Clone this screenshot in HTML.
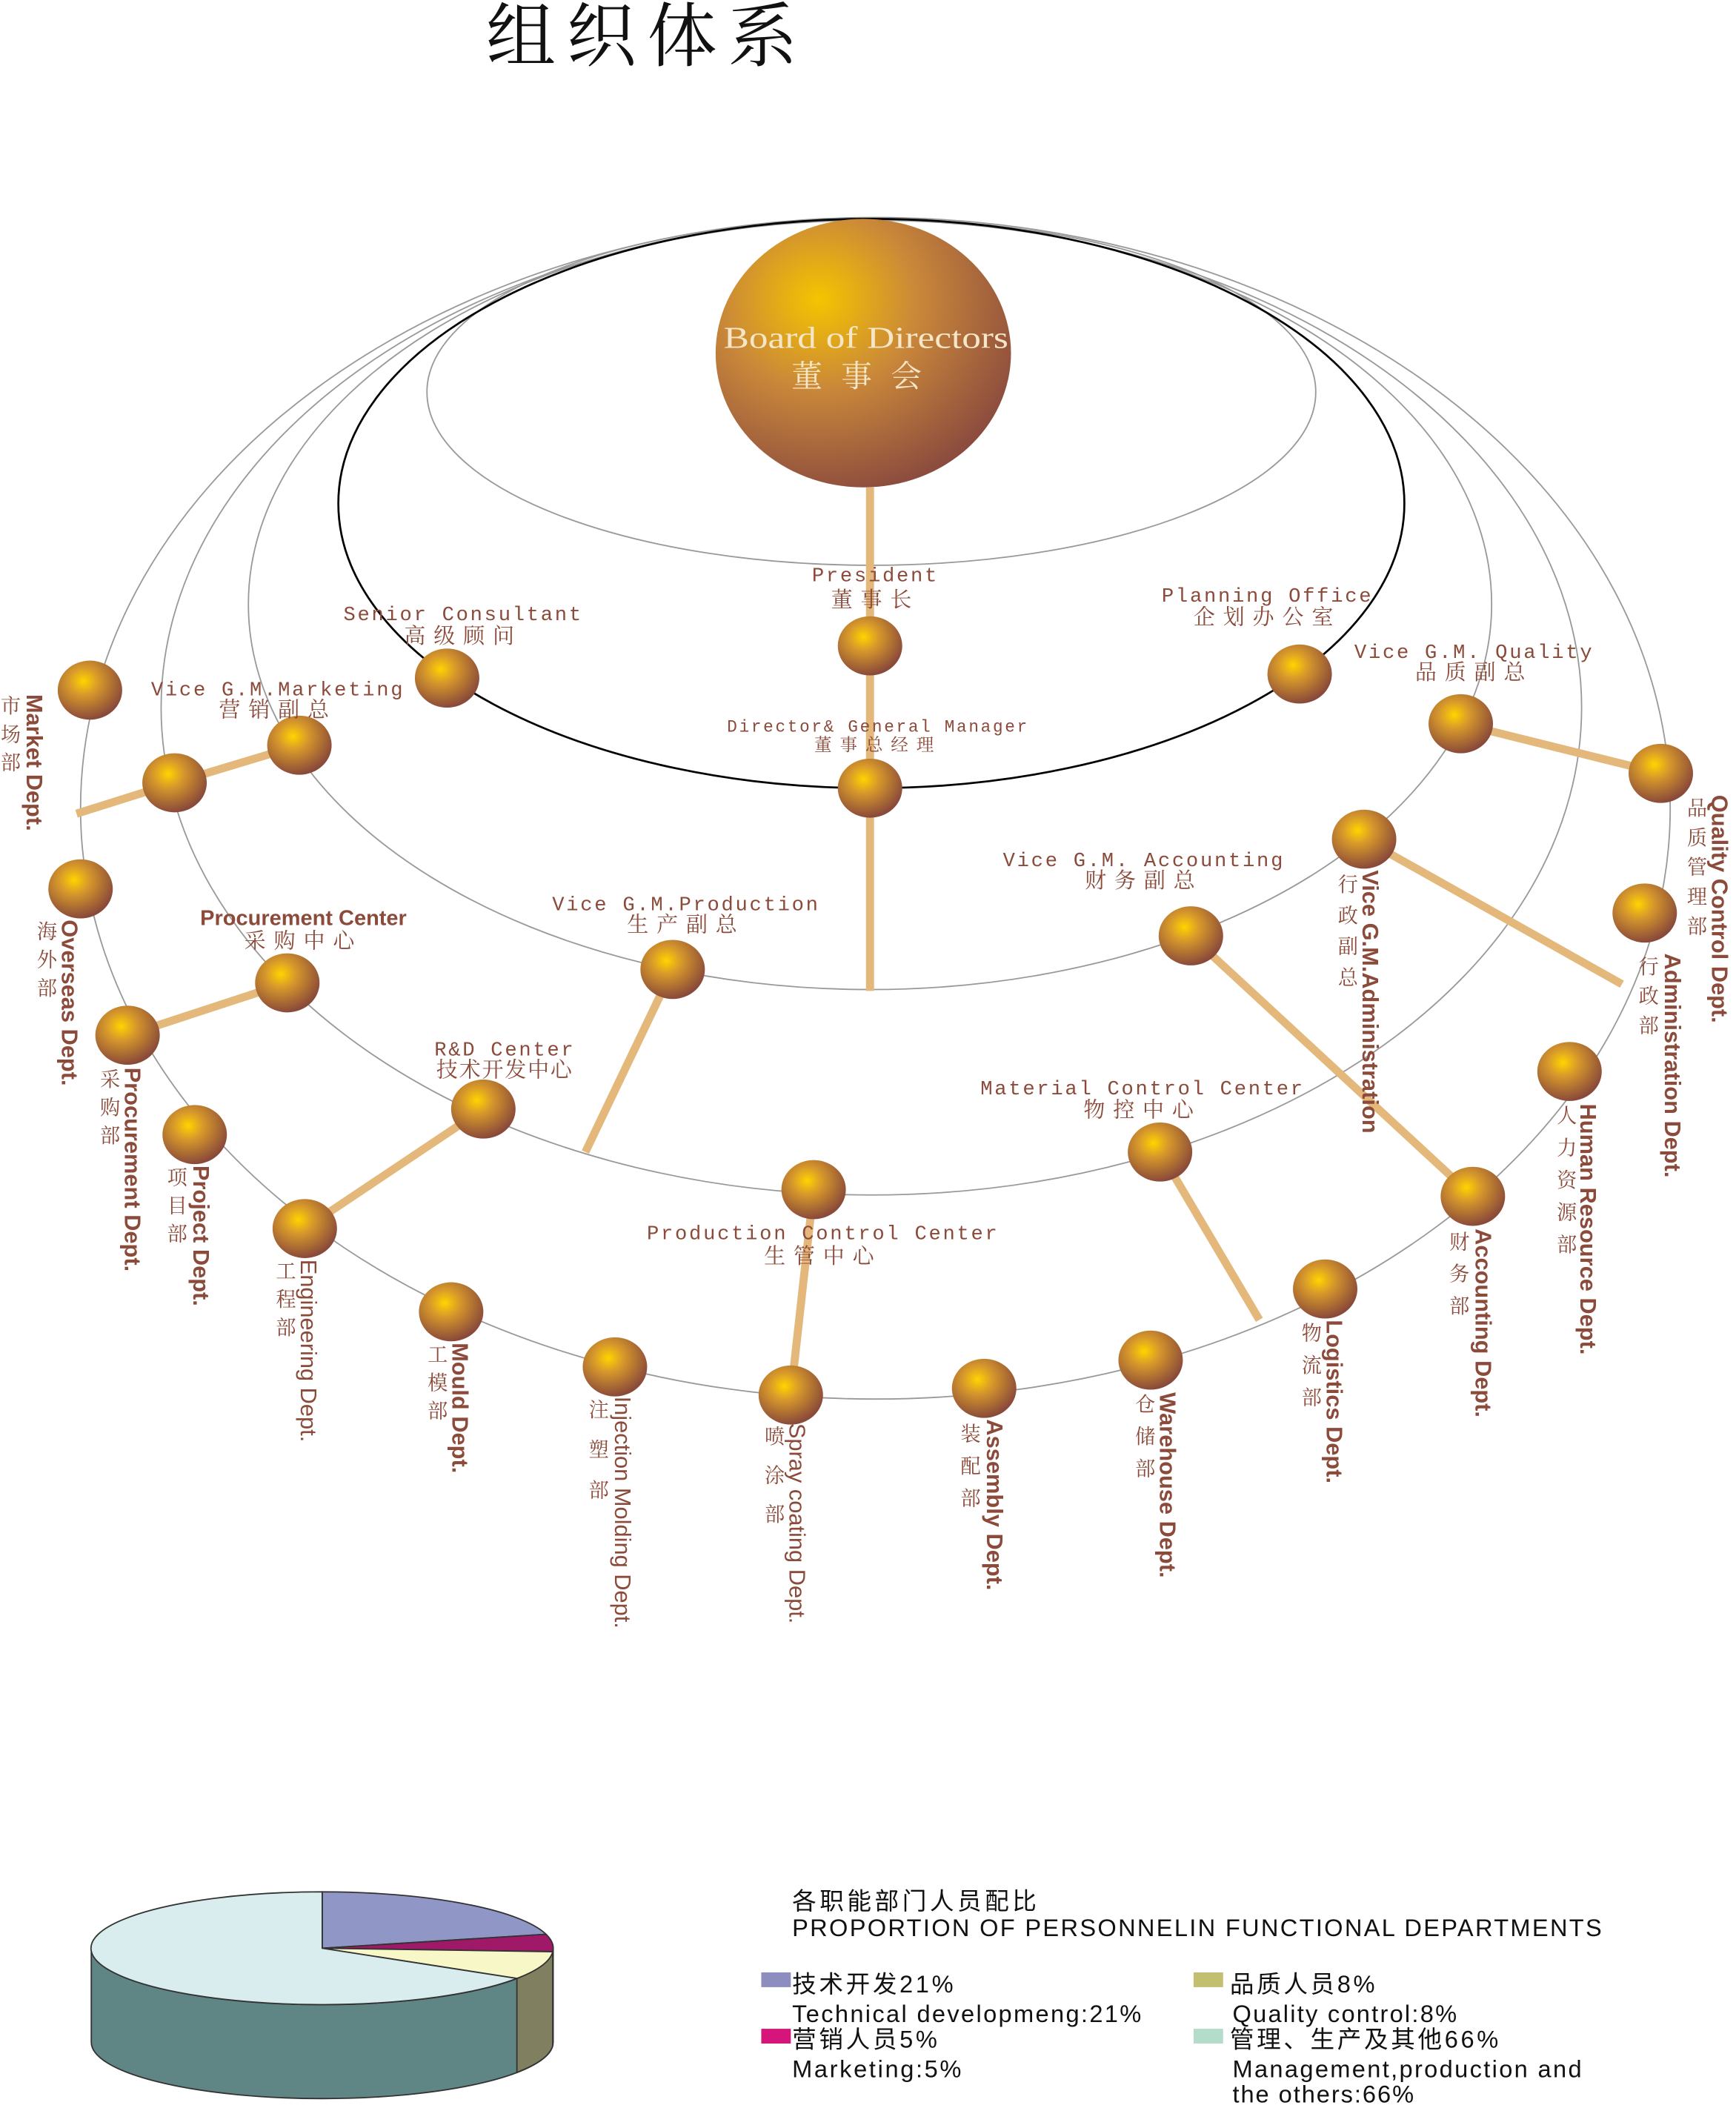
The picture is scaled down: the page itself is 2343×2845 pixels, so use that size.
<!DOCTYPE html>
<html><head><meta charset="utf-8"><style>
html,body{margin:0;padding:0;background:#fff}
svg{display:block}
.s{font-family:"Liberation Mono","Noto Serif CJK SC",monospace;fill:#8b4a3a;font-size:15px;letter-spacing:1.5px}
.c{font-family:"Liberation Serif","Noto Serif CJK SC",serif;fill:#8b4a3a;font-size:16px;letter-spacing:6px}
.v{font-family:"Liberation Sans",sans-serif;fill:#8b4a3a;font-size:17px;font-weight:bold}
.vc{font-family:"Liberation Serif","Noto Serif CJK SC",serif;fill:#8b4a3a;font-size:15px}
.lg{font-family:"Liberation Sans","Noto Sans CJK SC",sans-serif;fill:#111;font-size:18px}
</style></head><body>
<svg width="2343" height="2845" viewBox="0 0 1293 1570" preserveAspectRatio="none" xmlns="http://www.w3.org/2000/svg">
<defs>
<radialGradient id="b" cx="0.4" cy="0.35" r="0.65">
<stop offset="0" stop-color="#ffd400"/><stop offset="0.35" stop-color="#d89a2a"/><stop offset="1" stop-color="#8a4a3a"/>
</radialGradient>
<radialGradient id="big" cx="0.35" cy="0.3" r="0.75">
<stop offset="0" stop-color="#f5c400"/><stop offset="0.45" stop-color="#c9873a"/><stop offset="1" stop-color="#8a4a3e"/>
</radialGradient>
</defs>
<text x="362" y="45" font-family="Liberation Serif,'Noto Serif CJK SC',serif" font-size="52" letter-spacing="8" fill="#111">组织体系</text>
<g fill="none" stroke="#999" stroke-width="1">
<ellipse cx="649" cy="292" rx="331" ry="129"/>
<ellipse cx="648" cy="450" rx="463" ry="287"/>
<ellipse cx="649" cy="527" rx="529" ry="363"/>
<ellipse cx="652" cy="602" rx="592" ry="440"/>
</g>
<ellipse cx="649" cy="375" rx="397" ry="212" fill="none" stroke="#000" stroke-width="1.5"/>
<g stroke="#e3b87a" stroke-width="6" fill="none">
<line x1="648" y1="363" x2="648" y2="738"/>
<polyline points="57,606 130,583 223,555"/>
<line x1="1088" y1="539" x2="1237" y2="576"/>
<line x1="1016" y1="625" x2="1208" y2="733"/>
<line x1="887" y1="697" x2="1097" y2="891"/>
<line x1="501" y1="722" x2="436" y2="858"/>
<line x1="214" y1="732" x2="95" y2="771"/>
<line x1="360" y1="826" x2="227" y2="915"/>
<line x1="864" y1="858" x2="938" y2="983"/>
<line x1="606" y1="886" x2="589" y2="1039"/>
</g>
<ellipse cx="643" cy="263" rx="110" ry="100" fill="url(#big)"/>
<g fill="url(#b)">
<ellipse cx="648" cy="481" rx="24" ry="22"/><ellipse cx="333" cy="505" rx="24" ry="22"/>
<ellipse cx="968" cy="502" rx="24" ry="22"/><ellipse cx="648" cy="587" rx="24" ry="22"/>
<ellipse cx="223" cy="555" rx="24" ry="22"/><ellipse cx="67" cy="514" rx="24" ry="22"/>
<ellipse cx="130" cy="583" rx="24" ry="22"/><ellipse cx="1088" cy="539" rx="24" ry="22"/>
<ellipse cx="1237" cy="576" rx="24" ry="22"/><ellipse cx="1016" cy="625" rx="24" ry="22"/>
<ellipse cx="1225" cy="680" rx="24" ry="22"/><ellipse cx="887" cy="697" rx="24" ry="22"/>
<ellipse cx="501" cy="722" rx="24" ry="22"/><ellipse cx="60" cy="662" rx="24" ry="22"/>
<ellipse cx="214" cy="732" rx="24" ry="22"/><ellipse cx="95" cy="771" rx="24" ry="22"/>
<ellipse cx="360" cy="826" rx="24" ry="22"/><ellipse cx="145" cy="845" rx="24" ry="22"/>
<ellipse cx="1169" cy="798" rx="24" ry="22"/><ellipse cx="864" cy="858" rx="24" ry="22"/>
<ellipse cx="606" cy="886" rx="24" ry="22"/><ellipse cx="227" cy="915" rx="24" ry="22"/>
<ellipse cx="1097" cy="891" rx="24" ry="22"/><ellipse cx="987" cy="960" rx="24" ry="22"/>
<ellipse cx="336" cy="977" rx="24" ry="22"/><ellipse cx="458" cy="1018" rx="24" ry="22"/>
<ellipse cx="589" cy="1039" rx="24" ry="22"/><ellipse cx="733" cy="1034" rx="24" ry="22"/>
<ellipse cx="857" cy="1013" rx="24" ry="22"/>
</g>
<text x="539" y="259" textLength="212" lengthAdjust="spacingAndGlyphs" font-family="Liberation Serif,serif" font-size="23" fill="#f6e6c8">Board of Directors</text>
<text x="645" y="288" text-anchor="middle" font-family="Liberation Serif,'Noto Serif CJK SC',serif" font-size="23" letter-spacing="14" fill="#f6e6c8">董事会</text>
<g text-anchor="middle">
<text class="s" x="652" y="433">President</text><text class="c" x="652" y="452">董事长</text>
<text class="s" x="345" y="462">Senior Consultant</text><text class="c" x="345" y="479">高级顾问</text>
<text class="s" x="944" y="448">Planning Office</text><text class="c" x="944" y="465">企划办公室</text>
<text class="s" x="1098" y="490">Vice G.M. Quality</text><text class="c" x="1098" y="506">品质副总</text>
<text class="s" x="654" y="545" style="font-size:12.5px">Director&amp; General Manager</text><text class="c" x="654" y="559" style="font-size:13px">董事总经理</text>
<text class="s" x="207" y="518">Vice G.M.Marketing</text><text class="c" x="207" y="534">营销副总</text>
<text class="s" x="852" y="645">Vice G.M. Accounting</text><text class="c" x="852" y="661">财务副总</text>
<text class="s" x="511" y="678">Vice G.M.Production</text><text class="c" x="511" y="694">生产副总</text>
<text x="226" y="689" font-family="Liberation Sans,sans-serif" font-weight="bold" font-size="16" fill="#8b4a3a">Procurement Center</text><text class="c" x="226" y="706">采购中心</text>
<text class="s" x="376" y="786">R&amp;D Center</text><text class="c" x="376" y="802" style="letter-spacing:1px">技术开发中心</text>
<text class="s" x="851" y="815">Material Control Center</text><text class="c" x="851" y="832">物控中心</text>
<text class="s" x="613" y="923">Production Control Center</text><text class="c" x="613" y="941">生管中心</text>
</g>
<g>
<text class="v" transform="translate(20,517) rotate(90)">Market Dept.</text>
<text class="v" transform="translate(46,685) rotate(90)">Overseas Dept.</text>
<text class="v" transform="translate(93,795) rotate(90)">Procurement Dept.</text>
<text class="v" transform="translate(144,868) rotate(90)">Project Dept.</text>
<text class="v" style="font-weight:normal" transform="translate(224,938) rotate(90)">Engineering Dept.</text>
<text class="v" transform="translate(337,1000) rotate(90)">Mould Dept.</text>
<text class="v" style="font-weight:normal" transform="translate(458,1040) rotate(90)">Injection Molding Dept.</text>
<text class="v" style="font-weight:normal" transform="translate(588,1060) rotate(90)">Spray coating Dept.</text>
<text class="v" transform="translate(735,1057) rotate(90)">Assembly Dept.</text>
<text class="v" transform="translate(864,1037) rotate(90)">Warehouse Dept.</text>
<text class="v" transform="translate(988,983) rotate(90)">Logistics  Dept.</text>
<text class="v" transform="translate(1099,915) rotate(90)">Accounting  Dept.</text>
<text class="v" transform="translate(1177,822) rotate(90)">Human Resource Dept.</text>
<text class="v" transform="translate(1240,710) rotate(90)">Administration Dept.</text>
<text class="v" transform="translate(1275,592) rotate(90)">Quality Control Dept.</text>
<text class="v" transform="translate(1015,648) rotate(90)">Vice G.M.Administration</text>
</g>
<g text-anchor="middle">
<text class="vc" x="8" y="531"><tspan x="8">市</tspan><tspan x="8" dy="21">场</tspan><tspan x="8" dy="21">部</tspan></text>
<text class="vc" x="35" y="699"><tspan x="35">海</tspan><tspan x="35" dy="21">外</tspan><tspan x="35" dy="21">部</tspan></text>
<text class="vc" x="82" y="809"><tspan x="82">采</tspan><tspan x="82" dy="21">购</tspan><tspan x="82" dy="21">部</tspan></text>
<text class="vc" x="132" y="882"><tspan x="132">项</tspan><tspan x="132" dy="21">目</tspan><tspan x="132" dy="21">部</tspan></text>
<text class="vc" x="213" y="952"><tspan x="213">工</tspan><tspan x="213" dy="21">程</tspan><tspan x="213" dy="21">部</tspan></text>
<text class="vc" x="326" y="1014"><tspan x="326">工</tspan><tspan x="326" dy="21">模</tspan><tspan x="326" dy="21">部</tspan></text>
<text class="vc" x="446" y="1055"><tspan x="446">注</tspan><tspan x="446" dy="30">塑</tspan><tspan x="446" dy="30">部</tspan></text>
<text class="vc" x="577" y="1075"><tspan x="577">喷</tspan><tspan x="577" dy="29">涂</tspan><tspan x="577" dy="29">部</tspan></text>
<text class="vc" x="723" y="1073"><tspan x="723">装</tspan><tspan x="723" dy="24">配</tspan><tspan x="723" dy="24">部</tspan></text>
<text class="vc" x="853" y="1051"><tspan x="853">仓</tspan><tspan x="853" dy="24">储</tspan><tspan x="853" dy="24">部</tspan></text>
<text class="vc" x="977" y="998"><tspan x="977">物</tspan><tspan x="977" dy="24">流</tspan><tspan x="977" dy="24">部</tspan></text>
<text class="vc" x="1087" y="930"><tspan x="1087">财</tspan><tspan x="1087" dy="24">务</tspan><tspan x="1087" dy="24">部</tspan></text>
<text class="vc" x="1167" y="836"><tspan x="1167">人</tspan><tspan x="1167" dy="24">力</tspan><tspan x="1167" dy="24">资</tspan><tspan x="1167" dy="24">源</tspan><tspan x="1167" dy="24">部</tspan></text>
<text class="vc" x="1228" y="725"><tspan x="1228">行</tspan><tspan x="1228" dy="22">政</tspan><tspan x="1228" dy="22">部</tspan></text>
<text class="vc" x="1264" y="607"><tspan x="1264">品</tspan><tspan x="1264" dy="22">质</tspan><tspan x="1264" dy="22">管</tspan><tspan x="1264" dy="22">理</tspan><tspan x="1264" dy="22">部</tspan></text>
<text class="vc" x="1004" y="664"><tspan x="1004">行</tspan><tspan x="1004" dy="23">政</tspan><tspan x="1004" dy="23">副</tspan><tspan x="1004" dy="23">总</tspan></text>
</g>
<g stroke="#333" stroke-width="1">
<path d="M68,1451 L68,1521 A172,42 0 0 0 412,1521 L412,1451 A172,42 0 0 1 68,1451 Z" fill="#5f8585"/>
<path d="M411.7,1453.6 L411.7,1523.6 A172,42 0 0 1 385,1543.5 L385,1473.5 A172,42 0 0 0 411.7,1453.6 Z" fill="#808060"/>
<path d="M240,1451 L240,1409 A172,42 0 0 1 406.7,1440.6 Z" fill="#9097c6"/>
<path d="M240,1451 L406.7,1440.6 A172,42 0 0 1 411.7,1453.6 Z" fill="#a01868"/>
<path d="M240,1451 L411.7,1453.6 A172,42 0 0 1 385,1473.5 Z" fill="#f7f7c8"/>
<path d="M240,1451 L385,1473.5 A172,42 0 1 1 240,1409 Z" fill="#d9ecee"/>
</g>
<text class="lg" x="590" y="1422" textLength="182">各职能部门人员配比</text>
<text class="lg" x="590" y="1442" textLength="603">PROPORTION OF PERSONNELIN FUNCTIONAL DEPARTMENTS</text>
<rect x="567" y="1469" width="22" height="11" fill="#8d8dc0"/>
<text class="lg" x="590" y="1484" textLength="120">技术开发21%</text>
<text class="lg" x="590" y="1506" textLength="260">Technical developmeng:21%</text>
<rect x="567" y="1511" width="22" height="11" fill="#d6157a"/>
<text class="lg" x="590" y="1525" textLength="108">营销人员5%</text>
<text class="lg" x="590" y="1547" textLength="126">Marketing:5%</text>
<rect x="889" y="1469" width="22" height="11" fill="#c2c070"/>
<text class="lg" x="916" y="1484" textLength="108">品质人员8%</text>
<text class="lg" x="918" y="1506" textLength="167">Quality control:8%</text>
<rect x="889" y="1511" width="22" height="11" fill="#b4dcca"/>
<text class="lg" x="916" y="1525" textLength="200">管理、生产及其他66%</text>
<text class="lg" x="918" y="1547" textLength="260">Management,production and</text>
<text class="lg" x="918" y="1566" textLength="135">the others:66%</text>
</svg>
</body></html>
